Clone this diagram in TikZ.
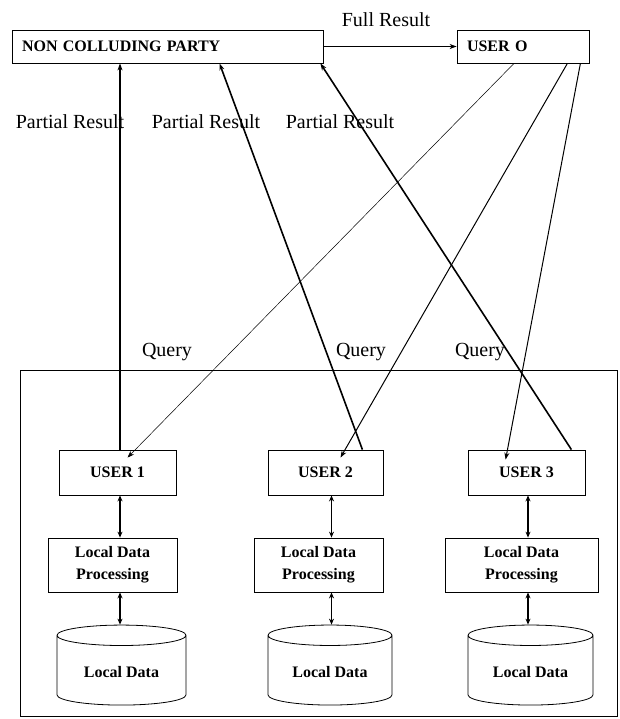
\documentclass[tikz,border=0pt]{standalone}
\usepackage{fontspec}
\setmainfont{Liberation Serif}
\usetikzlibrary{shapes.geometric,arrows.meta}
\tikzset{
  box/.style={draw,line width=.8pt,font=\bfseries\fontsize{16}{22}\selectfont,align=center,inner sep=2pt},
  dbase/.style={draw,cylinder,shape border rotate=90,aspect=.25,line width=.8pt,font=\bfseries\fontsize{16}{22}\selectfont},
  lbl/.style={font=\fontsize{20}{24}\selectfont},
  upward/.style={-{Stealth[length=7pt,width=5pt]},line width=1.6pt},
  qry/.style={-{Stealth[length=7pt,width=5pt]},line width=1pt},
  dbl/.style={{Stealth[length=6pt,width=5pt]}-{Stealth[length=6pt,width=5pt]},line width=1.6pt}
}
\begin{document}
\begin{tikzpicture}[x=1pt,y=-1pt]
\useasboundingbox (0,0) rectangle (620,719);
%=======top row=============
\node[box,text width=291pt,inner xsep=10pt,align=left,minimum height=33pt] (ncp) at (167.5,46.5) {NON COLLUDING PARTY};
\node[box,text width=112pt,inner xsep=10pt,align=left,minimum height=33pt] (uo) at (523,46.5) {USER O};
\draw[upward] (ncp.east) -- (uo.west);
\node[lbl] (full) at (386,20) {Full Result};
%=======local site=============
\draw[line width=.8pt] (20,370) rectangle (617,716);
\node[box,minimum width=117pt,minimum height=45pt] (u1) at (117.5,472.5) {USER 1};
\node[box,minimum width=115pt,minimum height=45pt] (u2) at (325.5,472.5) {USER 2};
\node[box,minimum width=117pt,minimum height=45pt] (u3) at (526.5,472.5) {USER 3};
\node[box,minimum width=129pt,minimum height=54pt] (p1) at (112.5,565) {Local Data\\Processing};
\node[box,minimum width=129pt,minimum height=54pt] (p2) at (318.5,565) {Local Data\\Processing};
\node[box,minimum width=153pt,minimum height=54pt] (p3) at (521.5,565) {Local Data\\Processing};
\node[dbase,minimum width=129pt,minimum height=80pt] (d1) at (121.5,672) {Local Data};
\node[dbase,minimum width=124pt,minimum height=80pt] (d2) at (330,672) {Local Data};
\node[dbase,minimum width=125pt,minimum height=80pt] (d3) at (530.5,672) {Local Data};
\draw[dbl] ([xshift=2.5pt]u1.south) -- ([xshift=2.5pt]u1.south |- p1.north);
\draw[dbl] ([xshift=2.5pt]p1.south -| u1.south) -- ([xshift=2.5pt]u1.south |- d1.north);
\draw[dbl] ([xshift=6pt]u2.south) -- ([xshift=6pt]u2.south |- p2.north);
\draw[dbl] ([xshift=6pt]p2.south -| u2.south) -- ([xshift=6pt]u2.south |- d2.north);
\draw[dbl] ([xshift=1.5pt]u3.south) -- ([xshift=1.5pt]u3.south |- p3.north);
\draw[dbl] ([xshift=1.5pt]p3.south -| u3.south) -- ([xshift=1.5pt]u3.south |- d3.north);
%=======partial results=============
\draw[upward] ([xshift=2.5pt]u1.north) -- ([xshift=2.5pt]u1.north |- ncp.south);
\draw[upward] ([xshift=-21pt]u2.north east) -- ([xshift=52pt]ncp.south);
\draw[upward] ([xshift=-14pt]u3.north east) -- ([xshift=-3pt]ncp.south east);
\node[lbl] (pr1) at (70,122) {Partial Result};
\node[lbl] (pr2) at (206,122) {Partial Result};
\node[lbl] (pr3) at (340,122) {Partial Result};
%=======queries=============
\draw[qry,line width=.5pt] ([xshift=-9pt]uo.south) -- ([xshift=10pt,yshift=-8pt]u1.north);
\draw[qry] ([xshift=-22pt]uo.south east) -- ([xshift=15pt,yshift=-8pt]u2.north);
\draw[qry] ([xshift=-9pt]uo.south east) -- ([xshift=38pt,yshift=-10pt]u3.north west);
\node[lbl] (q1) at (167,352) {Query};
\node[lbl] (q2) at (361,352) {Query};
\node[lbl] (q3) at (480,352) {Query};
\end{tikzpicture}
\end{document}
